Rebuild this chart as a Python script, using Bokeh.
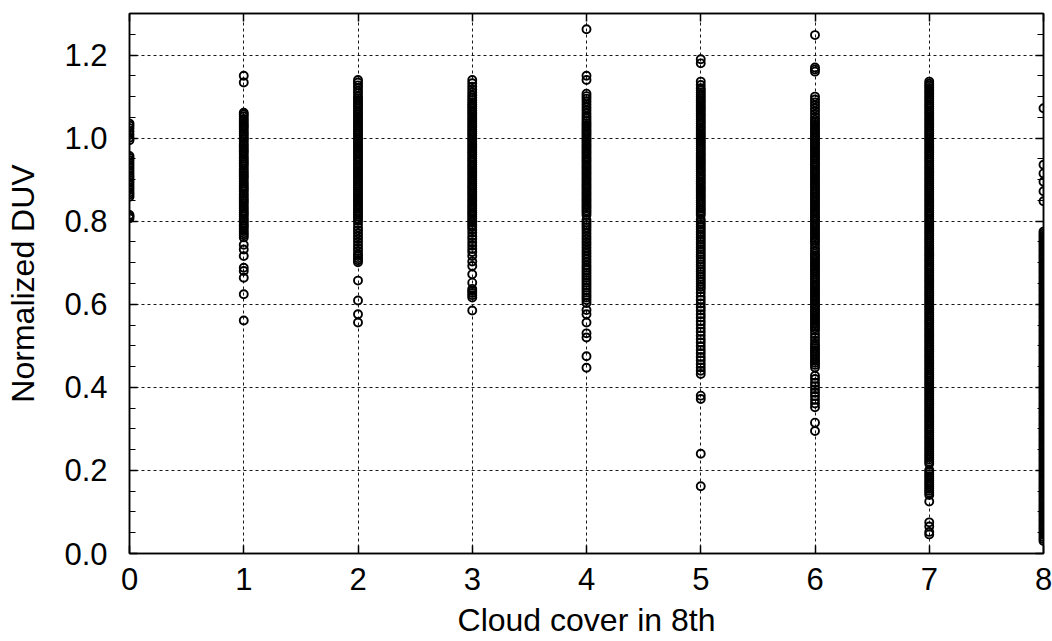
from bokeh.plotting import figure
from bokeh.models import Range1d, FixedTicker, LinearAxis, NumeralTickFormatter
from bokeh.embed import file_html
from bokeh.resources import INLINE

# Normalized DUV values (in thousandths) per cloud-cover class (0..8 eighths)
cloud_classes = [0, 1, 2, 3, 4, 5, 6, 7, 8]

duv_0 = [1035, 1030, 1024, 1016, 1008, 1001, 995, 957, 952, 946, 940, 934, 928, 922, 916,
         910, 905, 899, 893, 887, 881, 875, 869, 864, 859, 815, 811, 807]

duv_1 = [1150, 1134,
         1061, 1057, 1052, 1046, 1041, 1036, 1031, 1027, 1022, 1016, 1011, 1006, 1001, 997, 992,
         986, 981, 976, 971, 967, 962, 956, 951, 946, 941, 937, 932, 926, 921, 916, 911, 907,
         902, 896, 891, 886, 881, 877, 872, 866, 861, 856, 851, 847, 842, 836, 831, 826, 821,
         817, 812, 806, 801, 796, 791, 787, 782, 776, 771, 766, 761,
         743, 732, 716, 688, 680, 664, 624, 561]

duv_2 = [1140, 1134, 1127, 1121, 1114, 1108, 1101, 1096, 1091, 1086, 1081, 1076, 1071, 1066,
         1061, 1056, 1051, 1046, 1041, 1036, 1031, 1026, 1021, 1016, 1011, 1006, 1001, 996, 991,
         986, 981, 976, 971, 966, 961, 956, 951, 946, 941, 936, 931, 926, 921, 916, 911, 906,
         901, 896, 891, 886, 881, 876, 871, 866, 861, 856, 851, 846, 841, 836, 831, 826, 821,
         816, 811, 806, 801, 793, 785, 778, 771, 764, 757, 750, 742, 735, 728, 721, 716, 711,
         706, 701, 657, 609, 576, 556]

duv_3 = [1140, 1132, 1124, 1117, 1110, 1103, 1097, 1091, 1086, 1081, 1076, 1071, 1066, 1061,
         1056, 1051, 1046, 1041, 1036, 1031, 1026, 1021, 1016, 1011, 1006, 1001, 996, 991, 986,
         981, 976, 971, 966, 961, 956, 951, 946, 941, 936, 931, 926, 921, 916, 911, 906, 901,
         896, 891, 886, 881, 876, 871, 866, 861, 856, 851, 846, 841, 836, 831, 826, 821, 816,
         811, 806, 801, 796, 791, 786, 780, 772, 764, 757, 749, 741, 733, 726, 716,
         703, 692, 672, 652, 637, 632, 627, 622, 616, 585]

duv_4 = [1262, 1150, 1140,
         1107, 1101, 1095, 1088, 1081, 1074, 1067, 1060, 1053, 1047, 1041, 1036, 1031, 1026,
         1021, 1016, 1011, 1006, 1001, 996, 991, 986, 981, 976, 971, 966, 961, 956, 951, 946,
         941, 936, 931, 926, 921, 916, 911, 906, 901, 896, 891, 886, 881, 876, 871, 866, 861,
         856, 851, 846, 841, 836, 831, 826, 821, 815,
         803, 797, 791, 785, 778, 771, 764, 757, 750, 743, 736, 729, 722, 715, 708, 701, 694,
         688, 682, 676, 670, 664, 658, 652, 646, 640, 634, 628, 622, 616, 610, 603,
         586, 576, 556, 530, 520, 475, 447]

duv_5 = [1190, 1180, 1136, 1128,
         1120, 1115, 1110, 1105, 1100, 1095, 1090, 1085, 1080, 1075, 1070, 1065, 1060, 1055,
         1050, 1045, 1040, 1035, 1030, 1025, 1020, 1015, 1010, 1005, 1000, 995, 990, 985, 980,
         975, 970, 965, 960, 955, 950, 945, 940, 935, 930, 925, 920, 915, 910, 905, 900, 895,
         890, 885, 880, 875, 870, 865, 860, 855, 850, 845, 840, 835, 830, 825, 820, 815,
         804, 798, 792, 786, 780, 774, 768, 762, 756, 750, 744, 738, 732, 726, 720, 714, 708,
         702, 696, 690, 684, 678, 672, 666, 660, 654, 648, 642, 636,
         628, 619, 611, 602, 593, 585, 576, 568, 559, 551, 542, 534, 525, 516, 508, 499, 490,
         482, 473, 465, 456, 448, 440, 432, 380, 372, 240, 162]

duv_6 = [1248, 1170, 1165, 1160,
         1100, 1093, 1086, 1079, 1072, 1065, 1058, 1051, 1044, 1039, 1034, 1029, 1024, 1019,
         1014, 1009, 1004, 999, 994, 989, 984, 979, 974, 969, 964, 959, 954, 949, 944, 939, 934,
         929, 924, 919, 914, 909, 904, 899, 894, 889, 884, 879, 874, 869, 864, 859, 854, 849,
         844, 839, 834, 829, 824, 819, 814, 809, 804, 799, 794, 789, 784, 779, 774, 769, 764,
         759, 754, 749, 742, 735, 728, 722, 717, 712, 707, 702, 697, 692, 687, 682, 677, 672,
         667, 662, 657, 652, 647, 642, 637, 632, 627, 622, 617, 612, 607, 602, 597, 592, 587,
         582, 577, 572, 567, 562, 557, 552, 547, 542, 536, 528, 520, 512, 505, 499, 494, 489,
         484, 479, 474, 469, 464, 459, 454, 448,
         428, 420, 411, 403, 395, 387, 379, 370, 361, 352, 315, 295]

duv_7 = [1136, 1131, 1126, 1121, 1116, 1111, 1106, 1101, 1096, 1091, 1086, 1081, 1076, 1071,
         1066, 1061, 1056, 1051, 1046, 1041, 1036, 1031, 1026, 1021, 1016, 1011, 1006, 1001,
         996, 991, 986, 981, 976, 971, 966, 961, 956, 951, 946, 941, 936, 931, 926, 921, 916,
         911, 906, 901, 896, 891, 886, 881, 876, 871, 866, 861, 856, 851, 846, 841, 836, 831,
         826, 821, 816, 811, 806, 801, 796, 791, 786, 781, 776, 771, 766, 761, 756, 751, 746,
         741, 736, 731, 726, 721, 716, 711, 706, 701, 696, 691, 686, 681, 676, 671, 666, 661,
         656, 651, 646, 641, 636, 631, 626, 621, 616, 611, 606, 601, 596, 591, 586, 581, 576,
         571, 566, 561, 556, 551, 546, 541, 536, 531, 526, 521, 516, 511, 506, 501, 496, 491,
         486, 481, 476, 471, 466, 461, 456, 451, 446, 441, 436, 431, 426, 421, 416, 411, 406,
         401, 396, 391, 386, 381, 376, 371, 366, 361, 356, 351, 346, 341, 336, 331, 326, 321,
         316, 311, 306, 301, 296, 291, 286, 281, 276, 271, 266, 261, 256, 251, 246, 241, 236,
         231, 226, 221, 216,
         201, 196, 191, 186, 181, 176, 171, 166, 161, 156, 151, 146, 141,
         125, 75, 65, 52, 46]

duv_8 = [1072, 936, 915, 895, 872, 848,
         775, 770, 765, 760, 755, 750, 745, 740, 735, 730, 725, 720, 715, 710, 705, 700, 695,
         690, 685, 680, 675, 670, 665, 660, 655, 650, 645, 640, 635, 630, 625, 620, 615, 610,
         605, 600, 595, 590, 585, 580, 575, 570, 565, 560, 555, 550, 545, 540, 535, 530, 525,
         520, 515, 510, 505, 500, 495, 490, 485, 480, 475, 470, 465, 460, 455, 450, 445, 440,
         435, 430, 425, 420, 415, 410, 405, 400, 395, 390, 385, 380, 375, 370, 365, 360, 355,
         350, 345, 340, 335, 330, 325, 320, 315, 310, 305, 300, 295, 290, 285, 280, 275, 270,
         265, 260, 255, 250, 245, 240, 235, 230, 225, 220, 215, 210, 205, 200, 195, 190, 185,
         180, 175, 170, 165, 160, 155, 150, 145, 140, 135, 130, 125, 120, 115, 110, 105, 100,
         95, 90, 85, 80, 75, 70, 65, 60, 55, 50, 45, 40, 35, 30]

y_ticks = [0.0, 0.2, 0.4, 0.6, 0.8, 1.0, 1.2]
y_minor = [0.05, 0.1, 0.15, 0.25, 0.3, 0.35, 0.45, 0.5, 0.55, 0.65, 0.7, 0.75,
           0.85, 0.9, 0.95, 1.05, 1.1, 1.15, 1.25]

columns = [duv_0, duv_1, duv_2, duv_3, duv_4, duv_5, duv_6, duv_7, duv_8]
xs, ys = [], []
for c, vals in zip(cloud_classes, columns):
    xs += [c] * len(vals)
    ys += [v / 1000.0 for v in vals]

FONT = "Liberation Sans"

p = figure(width=1052, height=641, x_range=Range1d(0, 8), y_range=Range1d(0, 1.3),
           output_backend="svg", toolbar_location=None,
           min_border_left=129, min_border_right=9, min_border_top=13, min_border_bottom=88)
p.background_fill_color = "white"
p.border_fill_color = "white"
p.outline_line_color = "black"
p.outline_line_width = 1.5

xt = FixedTicker(ticks=cloud_classes, minor_ticks=[])
yt = FixedTicker(ticks=y_ticks, minor_ticks=y_minor)


def style_ticks(ax):
    ax.axis_line_color = "black"
    ax.axis_line_width = 1.5
    ax.major_tick_line_color = "black"
    ax.major_tick_line_width = 1.5
    ax.minor_tick_line_color = "black"
    ax.minor_tick_line_width = 1.2
    ax.major_tick_in = 8
    ax.major_tick_out = 0
    ax.minor_tick_in = 6
    ax.minor_tick_out = 0


for ax in [p.xaxis[0], p.yaxis[0]]:
    style_ticks(ax)
    ax.major_label_text_font = FONT
    ax.major_label_text_font_size = "31px"
    ax.major_label_text_color = "black"
    ax.axis_label_text_font = FONT
    ax.axis_label_text_font_size = "32px"
    ax.axis_label_text_font_style = "normal"
    ax.axis_label_text_color = "black"

p.xaxis[0].ticker = xt
p.yaxis[0].ticker = yt
p.yaxis[0].formatter = NumeralTickFormatter(format="0.0")
p.xaxis[0].axis_label = "Cloud cover in 8th"
p.yaxis[0].axis_label = "Normalized DUV"
p.xaxis[0].major_label_standoff = 14
p.xaxis[0].axis_label_standoff = 9
p.yaxis[0].major_label_standoff = 22
p.yaxis[0].axis_label_standoff = 20

# mirrored tick-only axes on the right and top (no labels drawn)
for loc, tk in [("right", yt), ("above", xt)]:
    ax = LinearAxis(ticker=tk)
    style_ticks(ax)
    ax.major_label_text_color = None
    ax.major_label_text_font_size = "1px"
    ax.major_label_standoff = 0
    p.add_layout(ax, loc)

p.xgrid.ticker = xt
p.ygrid.ticker = yt
for g in [p.xgrid[0], p.ygrid[0]]:
    g.grid_line_color = "black"
    g.grid_line_width = 1
    g.grid_line_dash = "3 3"
    g.grid_line_alpha = 0.9

p.scatter(xs, ys, marker="circle", size=8, fill_color=None,
          line_color="black", line_width=1.9)

open("out.html", "w").write(file_html(p, INLINE))
